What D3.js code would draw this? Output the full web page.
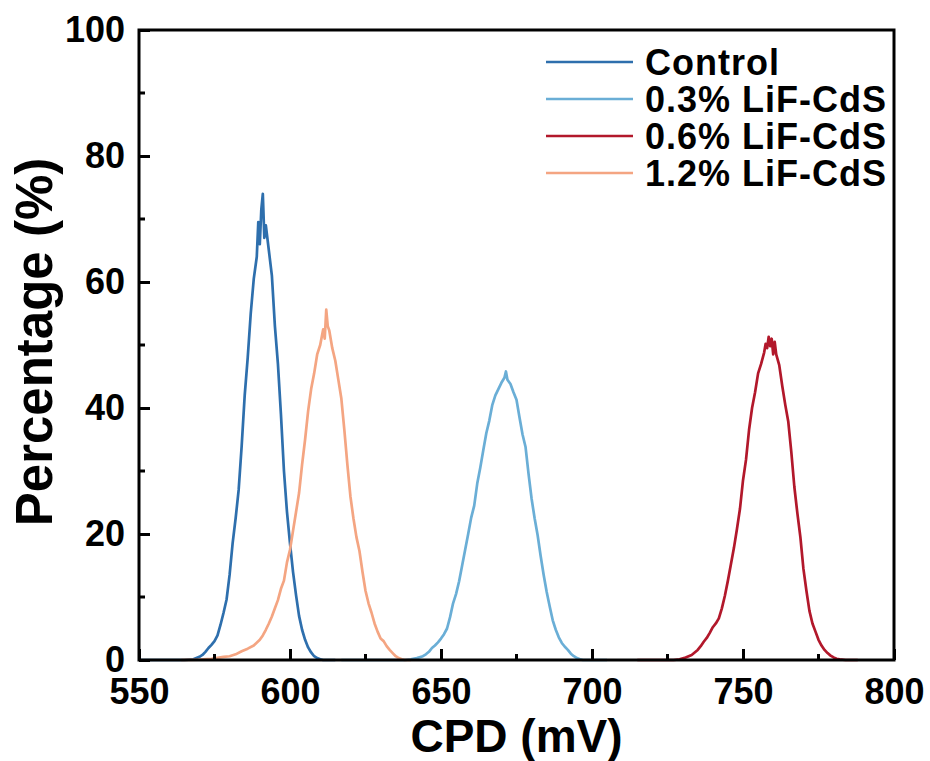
<!DOCTYPE html>
<meta charset="utf-8">
<style>
body { margin: 0; background: #fff; }
text { font-family: "Liberation Sans", Arial, sans-serif; font-weight: bold; fill: #000; }
.series { fill: none; stroke-width: 2.7; stroke-linejoin: round; }
</style>
<body>
<div id="chart"></div>
<script src="https://d3js.org/d3.v7.min.js"></script>
<script>
// CPD (mV) / percentage (%), one pair of arrays per sample
var controlX = [550, 565, 568, 569, 570, 571, 572, 573, 574, 575, 576, 577, 578, 579, 580, 581, 582, 583, 584, 585, 586, 587, 588, 589, 589.5, 590, 590.5, 591, 591.5, 592, 593, 594, 595, 596, 597, 598, 599, 600, 601, 602, 603, 604, 605, 606, 607, 608, 609, 610, 611, 615];
var controlY = [0, 0, 0.1, 0.3, 0.5, 0.8, 1.3, 1.9, 2.4, 3.0, 3.9, 5.6, 7.5, 9.6, 13.5, 18.5, 22.5, 27, 34, 42, 48, 55, 60.5, 64, 69.5, 66, 71.5, 74, 67, 69, 65, 61, 53, 47, 39, 30, 23.5, 18.5, 14, 10.3, 7, 4.8, 3.2, 2, 1.2, 0.6, 0.3, 0.1, 0, 0];

var lif03X = [617, 638, 640, 642, 644, 645, 646, 647, 648, 649, 650, 651, 652, 653, 654, 655, 656, 657, 658, 659, 660, 661, 662, 663, 664, 665, 666, 667, 668, 669, 670, 671, 671.5, 672, 673, 674, 675, 676, 677, 678, 679, 680, 681, 682, 683, 684, 685, 686, 687, 688, 689, 690, 691, 692, 693, 694, 695, 696, 697, 705];
var lif03Y = [0, 0, 0.1, 0.3, 0.6, 0.9, 1.3, 1.9, 2.3, 2.8, 3.4, 4.1, 5, 6.8, 9, 10.5, 12.5, 15, 17.5, 20, 22.6, 24.5, 28, 30.5, 33.3, 36, 38, 40.5, 42, 43, 44, 44.8, 45.8, 44.5, 43.8, 42.5, 41.3, 38.5, 35.8, 33.8, 29.5, 25.6, 22.5, 19.8, 16.5, 13.5, 10.8, 8.5, 6.3, 4.8, 3.6, 2.7, 2.1, 1.6, 1.0, 0.6, 0.3, 0.1, 0, 0];

var lif06X = [715, 727, 729, 731, 733, 734, 735, 736, 737, 738, 739, 740, 741, 742, 743, 744, 745, 746, 747, 748, 749, 750, 751, 752, 753, 754, 755, 756, 757, 757.5, 758, 758.5, 759, 759.5, 760, 760.5, 761, 762, 763, 764, 765, 766, 767, 768, 769, 770, 771, 772, 773, 774, 775, 776, 777, 778, 779, 780, 781, 782, 784, 788];
var lif06Y = [0, 0, 0.1, 0.4, 0.8, 1.2, 1.6, 2.2, 2.9, 3.5, 4.3, 5.2, 5.8, 6.6, 8.2, 10.2, 12.6, 15.2, 17.8, 20.8, 24, 28.5, 31.8, 36.5, 40, 42.5, 45.5, 47, 48.8, 50.2, 49.5, 51.3, 49.8, 51, 48.5, 50.5, 48.5, 46.8, 43.5, 40.5, 37.8, 33, 27.5, 23.3, 19.5, 14.5, 11, 7.8, 5.8, 4.5, 3.2, 2.3, 1.6, 1.1, 0.7, 0.4, 0.2, 0.1, 0, 0];

var lif12X = [564, 570, 574, 578, 580, 582, 584, 586, 588, 590, 591, 592, 593, 594, 595, 596, 597, 598, 599, 600, 601, 602, 603, 604, 605, 606, 607, 608, 609, 610, 611, 611.5, 612, 612.5, 613, 614, 615, 616, 617, 618, 619, 620, 621, 622, 623, 624, 625, 626, 627, 628, 629, 630, 631, 632, 633, 634, 635, 636, 637, 638, 640];
var lif12Y = [0, 0.05, 0.2, 0.5, 0.6, 0.9, 1.4, 1.8, 2.3, 3.2, 3.9, 4.8, 5.8, 6.9, 8.2, 9.5, 11.3, 12.6, 15.5, 17.5, 20.5, 23.5, 26.5, 31, 35, 39.5, 43, 45.5, 48.5, 50, 52.5, 51, 55.6, 53, 52.3, 49.5, 47.5, 44.5, 41.5, 36.5, 31, 26, 22.5, 19.5, 17.3, 14, 11, 9, 7.5, 5.8, 4.5, 3.4, 3.0, 2.2, 1.6, 1.1, 0.6, 0.3, 0.1, 0, 0];

var seriesNames = ["Control", "0.3% LiF-CdS", "0.6% LiF-CdS", "1.2% LiF-CdS"];
var seriesColors = ["#2e6fad", "#6aaed6", "#b2182b", "#f4a582"];
var xTicks = [550, 600, 650, 700, 750, 800];
var xMinor = [575, 625, 675, 725, 775];
var yTicks = [0, 20, 40, 60, 80, 100];
var yMinor = [10, 30, 50, 70, 90];

var width = 930, height = 761;
var margin = {top: 30, right: 36, bottom: 101, left: 139};

var svg = d3.select("#chart").append("svg")
    .attr("width", width)
    .attr("height", height);

var x = d3.scaleLinear().domain([550, 800]).range([margin.left, width - margin.right]);
var y = d3.scaleLinear().domain([0, 100]).range([height - margin.bottom, margin.top]);

var data = [
  {name: seriesNames[0], xs: controlX, ys: controlY, color: seriesColors[0]},
  {name: seriesNames[1], xs: lif03X, ys: lif03Y, color: seriesColors[1]},
  {name: seriesNames[2], xs: lif06X, ys: lif06Y, color: seriesColors[2]},
  {name: seriesNames[3], xs: lif12X, ys: lif12Y, color: seriesColors[3]}
];

var line = d3.line()
    .x(function(d) { return x(d[0]); })
    .y(function(d) { return y(d[1]); });

svg.append("g").selectAll("path")
    .data(data)
  .enter().append("path")
    .attr("class", "series")
    .attr("stroke", function(d) { return d.color; })
    .attr("d", function(d) { return line(d3.zip(d.xs, d.ys)); });

// bottom axis, ticks pointing in
var xAxis = svg.append("g")
    .attr("transform", "translate(0," + y(0) + ")")
    .call(d3.axisBottom(x).tickValues(xTicks).tickSizeInner(-11).tickSizeOuter(0).tickPadding(18));
xAxis.select(".domain").remove();
xAxis.selectAll("line").attr("stroke", "#000").attr("stroke-width", 3);
xAxis.selectAll("text").attr("font-size", 36).attr("dy", "0.71em").attr("fill", "#000")
    .style("font-family", '"Liberation Sans", Arial, sans-serif').style("font-weight", "bold");

svg.append("g").selectAll("line")
    .data(xMinor)
  .enter().append("line")
    .attr("x1", function(d) { return x(d); })
    .attr("x2", function(d) { return x(d); })
    .attr("y1", y(0))
    .attr("y2", y(0) - 6)
    .attr("stroke", "#000")
    .attr("stroke-width", 3);

// left axis
var yAxis = svg.append("g")
    .attr("transform", "translate(" + x(550) + ",0)")
    .call(d3.axisLeft(y).tickValues(yTicks).tickSizeInner(-11).tickSizeOuter(0).tickPadding(14));
yAxis.select(".domain").remove();
yAxis.selectAll("line").attr("stroke", "#000").attr("stroke-width", 3);
yAxis.selectAll("text").attr("font-size", 36).attr("fill", "#000")
    .style("font-family", '"Liberation Sans", Arial, sans-serif').style("font-weight", "bold");

svg.append("g").selectAll("line")
    .data(yMinor)
  .enter().append("line")
    .attr("x1", x(550))
    .attr("x2", x(550) + 6)
    .attr("y1", function(d) { return y(d); })
    .attr("y2", function(d) { return y(d); })
    .attr("stroke", "#000")
    .attr("stroke-width", 3);

// frame
svg.append("rect")
    .attr("x", x(550))
    .attr("y", y(100))
    .attr("width", x(800) - x(550))
    .attr("height", y(0) - y(100))
    .attr("fill", "none")
    .attr("stroke", "#000")
    .attr("stroke-width", 3);

// axis titles
svg.append("text")
    .attr("x", (x(550) + x(800)) / 2)
    .attr("y", 752)
    .attr("text-anchor", "middle")
    .attr("font-size", 46)
    .text("CPD (mV)");

svg.append("text")
    .attr("transform", "translate(52," + ((y(0) + y(100)) / 2 - 3) + ") rotate(-90)")
    .attr("text-anchor", "middle")
    .attr("font-size", 51)
    .text("Percentage (%)");

// legend
var legend = svg.append("g").selectAll("g")
    .data(data)
  .enter().append("g")
    .attr("transform", function(d, i) { return "translate(546," + (62 + i * 37) + ")"; });

legend.append("line")
    .attr("x1", 0)
    .attr("x2", 87)
    .attr("stroke", function(d) { return d.color; })
    .attr("stroke-width", 2.7);

legend.append("text")
    .attr("x", 99)
    .attr("y", 13)
    .attr("font-size", 36)
    .attr("letter-spacing", 1)
    .text(function(d) { return d.name; });
</script>
</body>
